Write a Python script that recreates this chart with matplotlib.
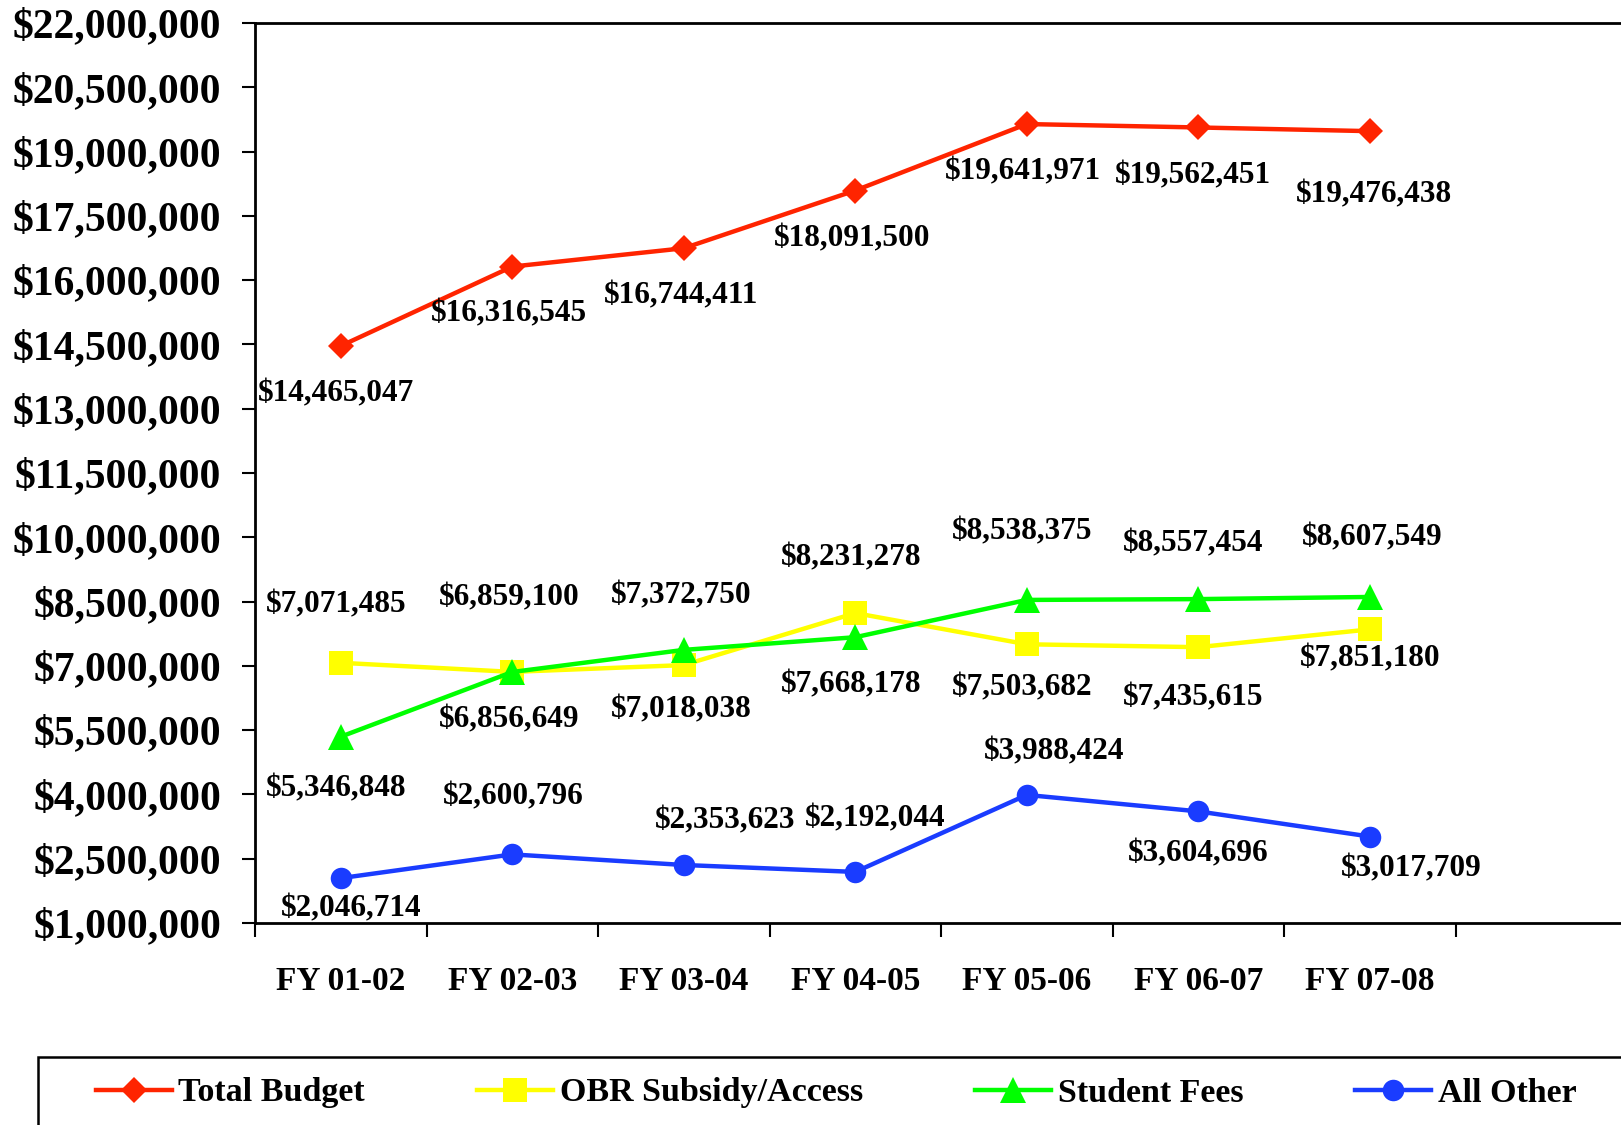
import matplotlib
matplotlib.use("Agg")
import matplotlib.pyplot as plt
from matplotlib.patches import Rectangle
from matplotlib.ticker import FixedLocator, FuncFormatter

# ---- data ----
years = ["FY 01-02", "FY 02-03", "FY 03-04", "FY 04-05", "FY 05-06", "FY 06-07", "FY 07-08"]
total_budget = [14465047, 16316545, 16744411, 18091500, 19641971, 19562451, 19476438]
obr_subsidy = [7071485, 6859100, 7018038, 8231278, 7503682, 7435615, 7851180]
student_fees = [5346848, 6856649, 7372750, 7668178, 8538375, 8557454, 8607549]
all_other = [2046714, 2600796, 2353623, 2192044, 3988424, 3604696, 3017709]
series_names = ["Total Budget", "OBR Subsidy/Access", "Student Fees", "All Other"]
y_ticks = [1000000 + 1500000 * i for i in range(15)]

# ---- value-label offsets (pixels, dx, dy) ----
total_off = [(-5, -48), (-3, -47), (-3, -48), (-3, -48), (-4, -48), (-5, -48), (4, -64)]
obr_off = [(-5, 58), (-3, 74), (-3, -45), (-4, 55), (-5, -44), (-5, -51), (0, -30)]
fees_off = [(-5, -52), (-3, -48), (-3, 54), (-4, -48), (-5, 68), (-5, 55), (2, 59)]
other_off = [(10, -31), (1, 57), (41, 44), (20, 53), (27, 43), (0, -43), (41, -32)]

FONT = "Liberation Serif"
W, H = 1621, 1125
fig = plt.figure(figsize=(W / 100, H / 100), dpi=100)
fig.patch.set_facecolor("white")

left, right, bottom, top = 255, 1627, 923, 23
ax = fig.add_axes([left / W, (H - bottom) / H, (right - left) / W, (bottom - top) / H])

x = list(range(len(years)))
styles = [
    (total_budget, "#FF2400", "D", 13, total_off),
    (obr_subsidy, "#FFFF00", "s", 17, obr_off),
    (student_fees, "#00FF00", "^", 18.5, fees_off),
    (all_other, "#1A3CFF", "o", 15.5, other_off),
]
handles = []
for (vals, color, mk, ms, offs), name in zip(styles, series_names):
    h, = ax.plot(x, vals, color=color, marker=mk, markersize=ms, linewidth=3.2,
                 markeredgewidth=0, label=name, zorder=3, clip_on=False)
    handles.append(h)
    for xi, v, (dx, dy) in zip(x, vals, offs):
        ax.annotate(f"${v:,.0f}", (xi, v), xytext=(dx, dy), textcoords="offset pixels",
                    ha="center", va="center", fontsize=22.5, fontweight="bold",
                    family=FONT, zorder=4)

ax.set_xlim(-0.5, 7.5)
ax.set_ylim(1000000, 22000000)

ax.yaxis.set_major_locator(FixedLocator(y_ticks))
ax.yaxis.set_major_formatter(FuncFormatter(lambda v, p: f"${v:,.0f}"))
ax.tick_params(axis="y", which="major", direction="out", length=9.5, width=1.5, pad=15,
               labelsize=30)

# category boundaries carry tick marks, category centres carry the labels
ax.xaxis.set_major_locator(FixedLocator([i - 0.5 for i in range(9)]))
ax.xaxis.set_major_formatter(FuncFormatter(lambda v, p: ""))
ax.xaxis.set_minor_locator(FixedLocator(x))
ax.set_xticklabels(years, minor=True)
ax.tick_params(axis="x", which="major", direction="out", length=10, width=1.5)
ax.tick_params(axis="x", which="minor", length=0, pad=31, labelsize=24)

for lbl in ax.get_yticklabels() + ax.get_xticklabels(minor=True):
    lbl.set_fontfamily(FONT)
    lbl.set_fontweight("bold")

for side in ["left", "top", "bottom"]:
    ax.spines[side].set_linewidth(2)
ax.spines["right"].set_visible(False)

# legend box at the bottom
fig.patches.append(Rectangle((38 / W, -0.1), 1.2, (H - 1057) / H + 0.1,
                             transform=fig.transFigure, fill=False,
                             edgecolor="black", linewidth=1.8, zorder=0))
fig.legend(handles=handles, labels=series_names, loc="center left",
           bbox_to_anchor=(96 / W, (H - 1093) / H), ncol=4, frameon=False,
           borderpad=0, borderaxespad=0, handlelength=2.22, handletextpad=0.2,
           columnspacing=3.3, prop={"family": FONT, "weight": "bold", "size": 24.5})

fig.savefig("out.png", dpi=100)
